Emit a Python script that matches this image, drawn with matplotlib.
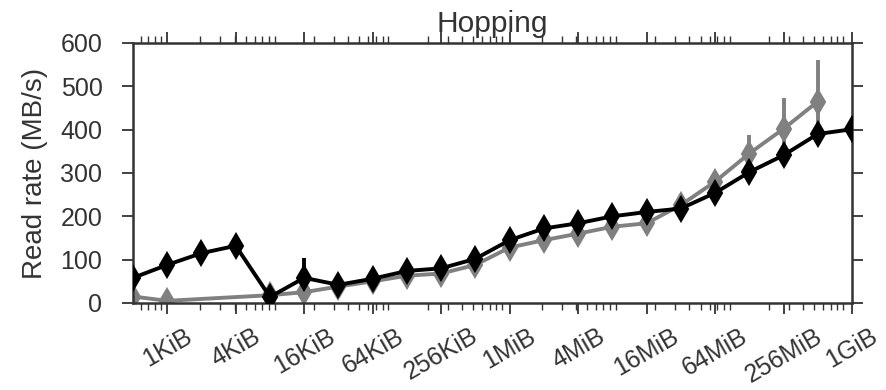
import numpy as np
import matplotlib
matplotlib.use("Agg")
import matplotlib.pyplot as plt
from matplotlib.ticker import FixedLocator, FixedFormatter, LogLocator, NullFormatter

plt.rcParams['font.family'] = ['Liberation Sans', 'DejaVu Sans']

# Data (sizes in bytes, read rate in MB/s)
black_sizes = [2**k for k in range(9, 31)]
black_vals = [58, 88, 115, 132, 14, 58, 42, 56, 74, 80, 102, 145, 172, 184, 200, 210,
              218, 254, 302, 341, 390, 401]
black_err_low = [3, 4, 4, 4, 3, 5, 3, 3, 3, 3, 3, 4, 4, 4, 3, 3, 3, 4, 5, 5, 6, 3]
black_err_high = [3, 4, 4, 4, 3, 46, 3, 3, 3, 3, 3, 4, 4, 4, 3, 3, 3, 4, 5, 5, 6, 3]

gray_sizes = [2**9, 2**10] + [2**k for k in range(13, 30)]
gray_vals = [15, 5, 18, 25, 38, 50, 63, 68, 88, 128, 145, 160, 176, 184, 226, 280,
             345, 402, 465]
gray_err = [4, 3, 3, 6, 6, 6, 6, 6, 6, 6, 10, 10, 6, 6, 6, 8, 42, 70, 96]

tick_sizes = [2**k for k in range(10, 31, 2)]
tick_labels = ['1KiB', '4KiB', '16KiB', '64KiB', '256KiB', '1MiB', '4MiB',
               '16MiB', '64MiB', '256MiB', '1GiB']

TEXT = '#333333'
fig = plt.figure(figsize=(8.87, 3.90), dpi=100)
ax = fig.add_axes([133/887, 1 - 303/390, (852-133)/887, (303-43)/390])

ax.errorbar(gray_sizes, gray_vals, yerr=gray_err, color='#808080', lw=2.8,
            marker='d', ms=12, mew=1.5, elinewidth=2.8, capsize=0, zorder=2)
ax.errorbar(black_sizes, black_vals, yerr=[black_err_low, black_err_high], color='black',
            lw=2.8, marker='d', ms=12, mew=1.5, elinewidth=2.8, capsize=0, zorder=3)

ax.set_xscale('log')
ax.set_xlim(2**9, 2**30)
ax.set_ylim(0, 600)
ax.xaxis.set_major_locator(FixedLocator(tick_sizes))
ax.xaxis.set_major_formatter(FixedFormatter(tick_labels))
ax.xaxis.set_minor_locator(LogLocator(base=10, subs=np.arange(2, 10)))
ax.xaxis.set_minor_formatter(NullFormatter())
ax.set_yticks(range(0, 601, 100))

for s in ax.spines.values():
    s.set_color(TEXT)
    s.set_linewidth(1.8)

ax.tick_params(which='both', direction='out', top=True, right=True, color=TEXT,
               labelcolor=TEXT)
ax.tick_params(which='major', length=8, width=1.3)
ax.tick_params(which='minor', length=5, width=1.0)
ax.tick_params(axis='y', labelsize=18, pad=14)
ax.tick_params(axis='x', which='major', labelsize=18, pad=7)
for lbl in ax.get_xticklabels():
    lbl.set_rotation(30)
    lbl.set_ha('center')

ax.set_ylabel('Read rate (MB/s)', fontsize=20, color=TEXT, labelpad=9)
ax.set_title('Hopping', fontsize=21.5, color=TEXT, pad=8)

fig.savefig('out.png', dpi=100)
